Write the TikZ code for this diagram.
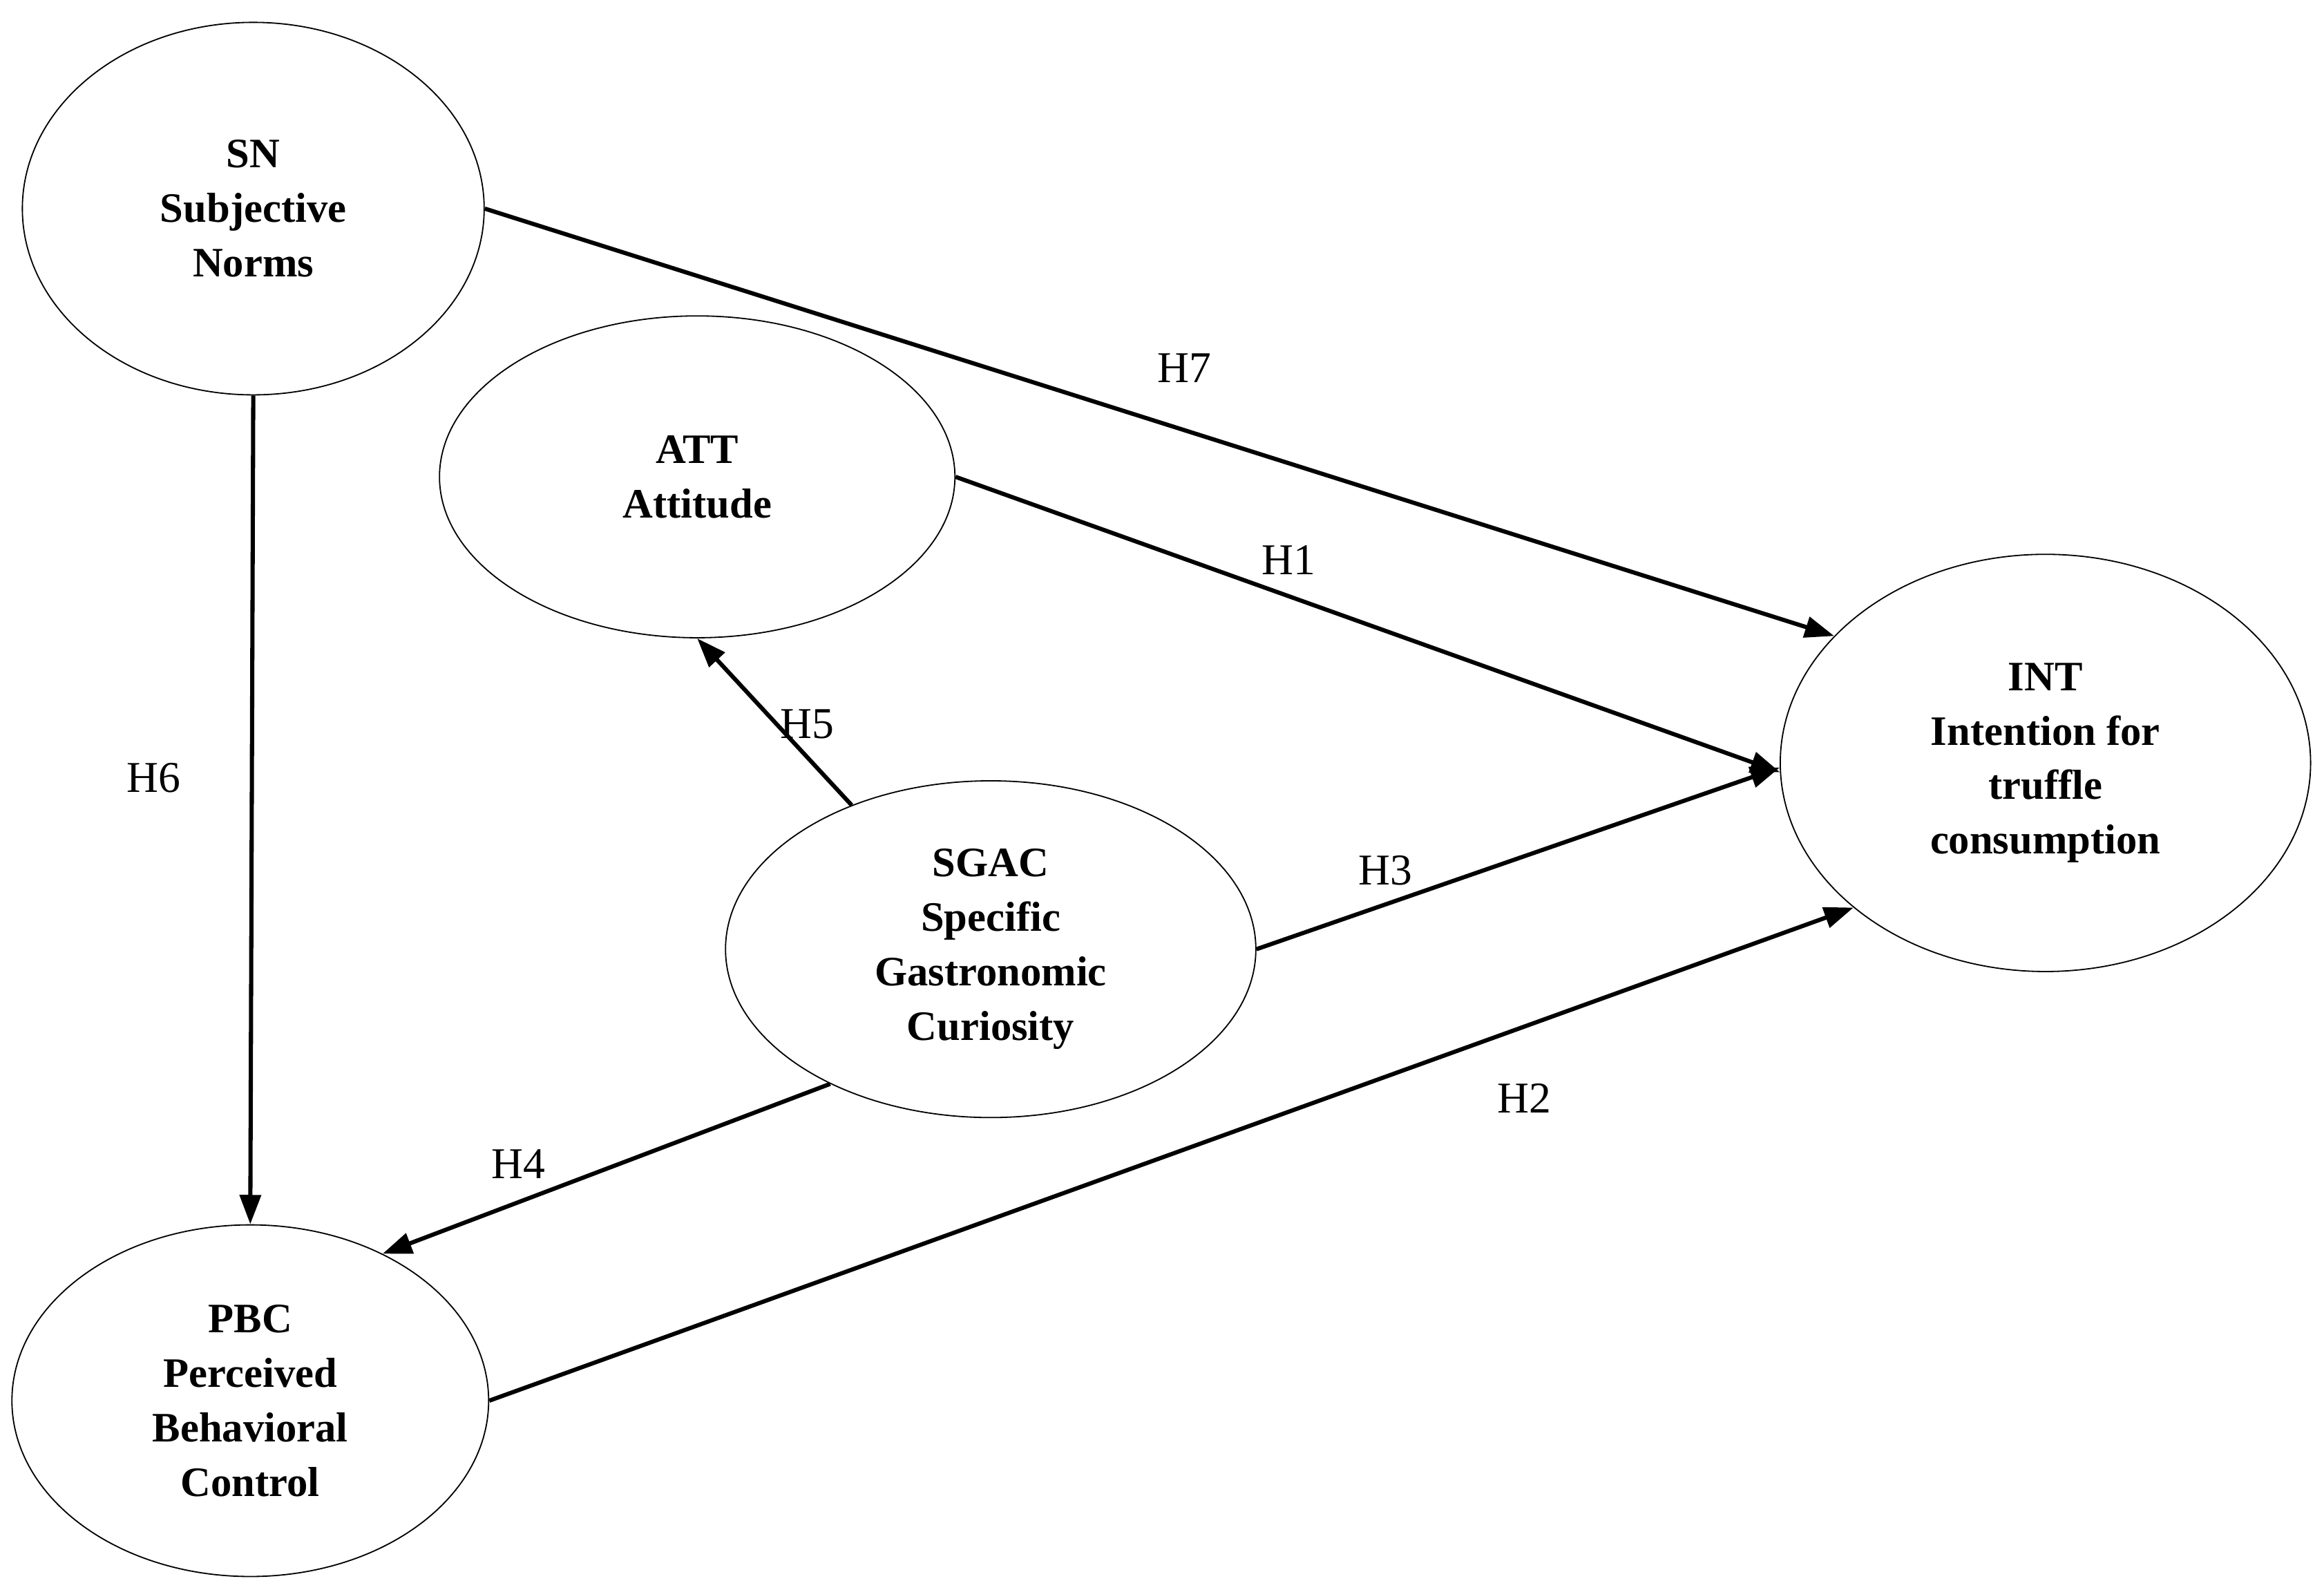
\documentclass[tikz,border=0pt]{standalone}
\usepackage{fontspec}
\setmainfont{Liberation Serif}
\usetikzlibrary{shapes.geometric,arrows.meta}
\begin{document}
\begin{tikzpicture}[x=0.05cm,y=-0.05cm,
  ell/.style={draw,line width=1.2pt,ellipse,inner sep=0pt,align=center,font=\fontsize{40}{52}\selectfont\bfseries},
  arr/.style={line width=4pt,-{Triangle[length=28pt,width=20pt]}},
  lab/.style={font=\fontsize{42}{50}\selectfont}]
\useasboundingbox (0,0) rectangle (1560,1061);
\node[ell,minimum width=310\pgfplotsunitx,minimum width=15.5cm,minimum height=12.5cm] (SN) at (170,140) {SN\\Subjective\\Norms};
\node[ell,minimum width=17.3cm,minimum height=10.8cm] (ATT) at (468,320) {ATT\\Attitude};
\node[ell,minimum width=17.8cm,minimum height=14cm] (INT) at (1373,512) {INT\\Intention for\\truffle\\consumption};
\node[ell,minimum width=17.8cm,minimum height=11.3cm] (SGAC) at (665,637) {SGAC\\Specific\\Gastronomic\\Curiosity};
\node[ell,minimum width=16cm,minimum height=11.8cm] (PBC) at (168,940) {PBC\\Perceived\\Behavioral\\Control};
\draw[arr] (SN.east) -- (INT.149);
\draw[arr] (ATT.east) -- (INT.182);
\draw[arr] (SGAC.east) -- (INT.181);
\draw[arr] (PBC.east) -- (INT.217);
\draw[arr] (SN.south) -- (PBC.north);
\draw[arr] (SGAC.134) -- (ATT.south);
\draw[arr] (SGAC.220) -- (PBC.48);
\node[lab] (h7) at (795,247) {H7};
\node[lab] (h1) at (865,376) {H1};
\node[lab] (h5) at (542,486) {H5};
\node[lab] (h6) at (103,522) {H6};
\node[lab] (h3) at (930,584) {H3};
\node[lab] (h2) at (1023,737) {H2};
\node[lab] (h4) at (348,781) {H4};
\end{tikzpicture}
\end{document}
